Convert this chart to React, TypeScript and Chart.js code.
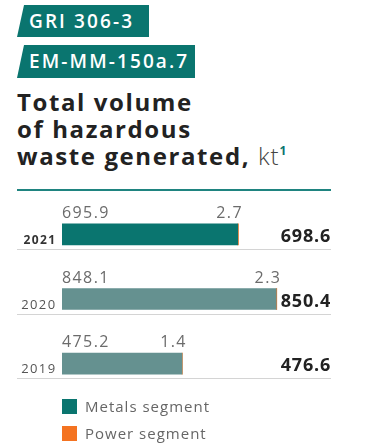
import React, { useEffect, useRef } from 'react';
import { Chart, registerables } from 'chart.js';
Chart.register(...registerables);

const years = ['2021', '2020', '2019'];
const metals = [695.9, 848.1, 475.2];
const power = [2.7, 2.3, 1.4];
const metalsColors = ['#0a756f', '#659190', '#659190'];
const powerColor = '#f47321';
const seriesNames = ['Metals segment', 'Power segment'];
const FONT = '"Open Sans", "DejaVu Sans", sans-serif';
const TEAL = '#0a756f';

export default function App() {
  const ref = useRef<HTMLCanvasElement>(null);

  useEffect(() => {
    document.body.style.margin = '0';
    const canvas = ref.current;
    if (!canvas) return;

    const labelsPlugin = {
      id: 'rowLabels',
      afterDatasetsDraw(chart: any) {
        const ctx = chart.ctx;
        const m = chart.getDatasetMeta(0);
        const p = chart.getDatasetMeta(1);
        ctx.save();
        years.forEach((yr, i) => {
          const b = m.data[i].getProps(['x', 'y', 'base', 'height'], true);
          const pb = p.data[i].getProps(['x', 'y', 'base', 'height'], true);
          const top = b.y - b.height / 2;
          const bottom = b.y + b.height / 2;
          // separator
          ctx.strokeStyle = '#d4d4d4';
          ctx.lineWidth = 1;
          ctx.beginPath();
          ctx.moveTo(17, Math.round(bottom + 4) + 0.5);
          ctx.lineTo(331, Math.round(bottom + 4) + 0.5);
          ctx.stroke();
          // values above bar
          ctx.fillStyle = '#6b6b6b';
          ctx.font = `normal 16px ${FONT}`;
          ctx.letterSpacing = '1.4px';
          ctx.textBaseline = 'alphabetic';
          ctx.textAlign = 'left';
          ctx.fillText(metals[i].toFixed(1), b.base, top - 6);
          ctx.textAlign = 'right';
          ctx.fillText(power[i].toFixed(1), pb.x + 4.5, top - 6);
          // year label
          ctx.fillStyle = i === 0 ? '#333' : '#555';
          ctx.font = `${i === 0 ? 'bold 12px' : 'normal 13px'} ${FONT}`;
          ctx.letterSpacing = '1.4px';
          ctx.textAlign = 'right';
          ctx.fillText(yr, 56.5, bottom - 1);
          // total
          ctx.fillStyle = '#222';
          ctx.font = `bold 18px ${FONT}`;
          ctx.letterSpacing = '0.8px';
          ctx.fillText((metals[i] + power[i]).toFixed(1), 331, bottom - 3);
        });
        ctx.restore();
      },
    };

    const chart = new Chart(canvas, {
      type: 'bar',
      data: {
        labels: years,
        datasets: [
          { label: seriesNames[0], data: metals, backgroundColor: metalsColors, borderWidth: 0, barThickness: 21 },
          { label: seriesNames[1], data: power, backgroundColor: powerColor, borderWidth: 0, barThickness: 21 },
        ],
      },
      options: {
        indexAxis: 'y',
        responsive: false,
        animation: false,
        devicePixelRatio: 1,
        layout: { padding: { left: 62, right: 35, top: 10, bottom: 6 } },
        scales: {
          x: { stacked: true, min: 0, max: 1065, display: false },
          y: { stacked: true, display: false },
        },
        plugins: { legend: { display: false }, tooltip: { enabled: false } },
      },
      plugins: [labelsPlugin],
    });
    return () => chart.destroy();
  }, []);

  const badge = (text: string, top: number, width: number, height: number) => (
    <div
      style={{
        position: 'absolute',
        left: 17,
        top,
        width,
        height,
        background: TEAL,
        clipPath: 'polygon(7px 0, 100% 0, 100% 100%, 0 100%)',
        color: '#fff',
        fontFamily: FONT,
        fontWeight: 600,
        fontSize: 19,
        letterSpacing: '2.1px',
        lineHeight: `${height}px`,
        paddingLeft: 12,
        boxSizing: 'border-box',
        whiteSpace: 'nowrap',
      }}
    >
      {text}
    </div>
  );

  const legendItem = (name: string, color: string, top: number) => (
    <div style={{ position: 'absolute', left: 62, top, height: 16, display: 'flex', alignItems: 'center' }}>
      <div style={{ width: 15, height: 15, background: color }} />
      <span style={{ marginLeft: 8, fontFamily: FONT, fontSize: 15, letterSpacing: '1px', color: '#666', whiteSpace: 'nowrap' }}>{name}</span>
    </div>
  );

  return (
    <div style={{ position: 'absolute', left: 0, top: 0, width: 366, height: 444, background: '#fff', overflow: 'hidden' }}>
      {badge('GRI 306-3', 5, 132, 32)}
      {badge('EM-MM-150a.7', 45, 178, 33)}
      <div
        style={{
          position: 'absolute',
          left: 17,
          top: 88,
          fontFamily: FONT,
          fontWeight: 700,
          fontSize: 24,
          letterSpacing: '1.6px',
          lineHeight: '27px',
          color: '#222',
          whiteSpace: 'nowrap',
        }}
      >
        Total volume
        <br />
        of hazardous
        <br />
        waste generated,{' '}
        <span style={{ fontWeight: 300, color: '#444', letterSpacing: '1px' }}>kt</span>
        <span style={{ fontSize: 12, color: TEAL, fontWeight: 700, position: 'relative', top: -10, lineHeight: 0 }}>1</span>
      </div>
      <div style={{ position: 'absolute', left: 17, top: 189, width: 314, height: 2, background: '#1f8480' }} />
      <canvas ref={ref} width={366} height={210} style={{ position: 'absolute', left: 0, top: 192, width: 366, height: 210 }} />
      {legendItem(seriesNames[0], TEAL, 398)}
      {legendItem(seriesNames[1], powerColor, 425)}
    </div>
  );
}
